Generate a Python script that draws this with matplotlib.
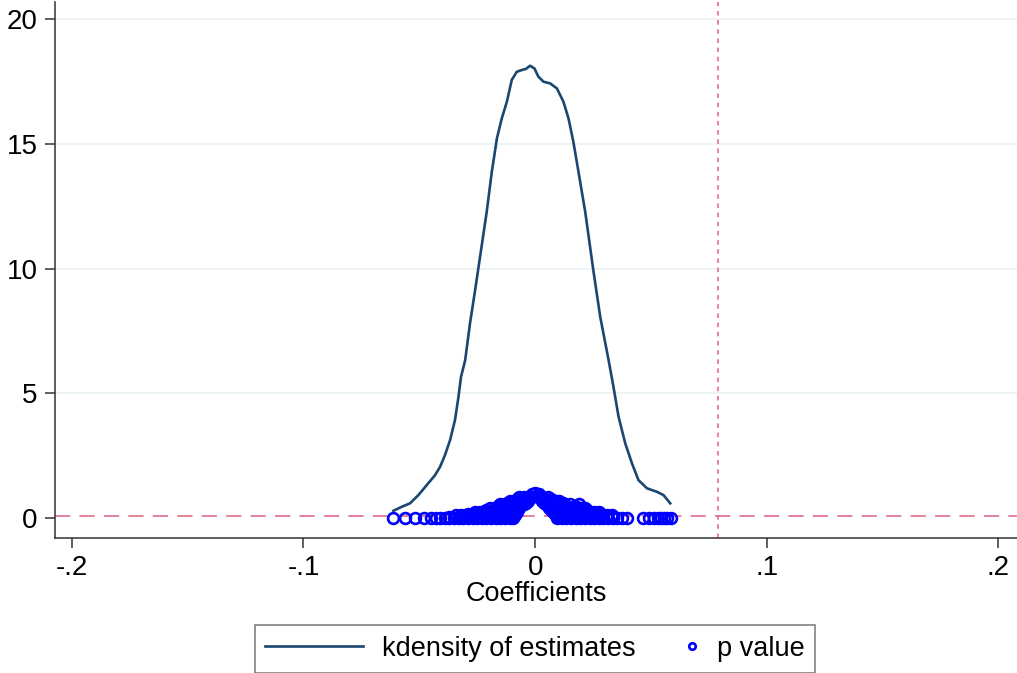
import numpy as np
import matplotlib
matplotlib.use("Agg")
import matplotlib.pyplot as plt
from matplotlib.legend_handler import HandlerLine2D

plt.rcParams['font.family'] = ['Liberation Sans', 'DejaVu Sans']

# kdensity of estimates
kd_x = [-0.0612, -0.0576, -0.054, -0.0504, -0.0468, -0.0432, -0.041, -0.0389,
        -0.0367, -0.0346, -0.0331, -0.032, -0.0302, -0.0281, -0.0259, -0.0238,
        -0.0209, -0.0187, -0.0165, -0.0144, -0.0122, -0.0101, -0.0079, -0.0057,
        -0.004, -0.0022, -0.0003, 0.0014, 0.0036, 0.0065, 0.0094, 0.0122,
        0.0144, 0.0165, 0.0187, 0.0216, 0.0251, 0.0281, 0.0317, 0.0338,
        0.036, 0.0389, 0.0418, 0.0446, 0.0483, 0.0526, 0.0554, 0.0583]
kd_y = [0.29, 0.45, 0.59, 0.92, 1.32, 1.72, 2.06, 2.53,
        3.13, 3.93, 4.86, 5.66, 6.33, 7.82, 9.14, 10.46,
        12.28, 13.88, 15.22, 16.02, 16.69, 17.56, 17.89, 17.96,
        18.0, 18.13, 18.02, 17.69, 17.49, 17.42, 17.22, 16.69,
        16.02, 15.08, 13.88, 12.28, 9.94, 8.06, 6.33, 5.26,
        4.06, 2.99, 2.19, 1.52, 1.19, 1.05, 0.92, 0.59]

# p values, grouped by rows of similar height
p_row_0 = [-0.0613, -0.0562, -0.0518, -0.0479, -0.0449, -0.0428, -0.041, -0.039,
           -0.037, -0.035, -0.033, -0.031, -0.029, -0.027, -0.025, -0.023, -0.021,
           -0.019, -0.017, -0.015, -0.013, -0.011, -0.0095,
           0.0095, 0.0115, 0.0135, 0.0155, 0.0175, 0.0195, 0.0215, 0.0235, 0.0255,
           0.0275, 0.0295, 0.0315, 0.0335, 0.0355, 0.0375, 0.0395,
           0.0467, 0.0492, 0.0514, 0.0531, 0.0544, 0.0557, 0.057, 0.0587]
p_row_06 = [-0.037, -0.033, -0.029, -0.025, -0.021, -0.017, -0.013, -0.0095,
            0.0095, 0.0135, 0.0175, 0.0215, 0.0255, 0.0295, 0.0335]
p_row_12 = [-0.034, -0.032, -0.030, -0.028, -0.026, -0.024, -0.022, -0.020, -0.018,
            -0.016, -0.014, -0.012, -0.010, -0.0085,
            0.009, 0.011, 0.013, 0.015, 0.017, 0.019, 0.021, 0.023, 0.025, 0.027,
            0.029, 0.031, 0.033]
p_row_18 = [-0.029, -0.025, -0.021, -0.017, -0.013, -0.0090,
            0.0085, 0.0125, 0.0165, 0.0205, 0.0245, 0.0285]
p_row_25 = [-0.026, -0.024, -0.022, -0.020, -0.018, -0.016, -0.014, -0.012, -0.010,
            -0.0080,
            0.0075, 0.0095, 0.0115, 0.0135, 0.0155, 0.0175, 0.0195, 0.0215, 0.0235,
            0.0255, 0.0275]
p_row_32 = [-0.021, -0.017, -0.013, -0.0085, 0.0070, 0.0110, 0.0150, 0.0190, 0.0225]
p_row_40 = [-0.0195, -0.0175, -0.0155, -0.0135, -0.0115, -0.0095, -0.0070,
            0.0060, 0.0080, 0.0100, 0.0120, 0.0140, 0.0160, 0.0180, 0.0200, 0.0215]
p_row_47 = [-0.016, -0.012, -0.008, 0.0055, 0.0095, 0.0135, 0.0170]
p_row_55 = [-0.0150, -0.0130, -0.0110, -0.0090, -0.0070, -0.0050,
            0.0045, 0.0065, 0.0085, 0.0105, 0.0125, 0.0150, 0.0190]
p_row_62 = [-0.012, -0.008, -0.004, 0.004, 0.008, 0.012]
p_row_70 = [-0.0110, -0.0090, -0.0070, -0.0050, -0.0030,
            0.0030, 0.0050, 0.0070, 0.0090, 0.0105]
p_row_77 = [-0.008, -0.004, 0.004, 0.007]
p_row_85 = [-0.0070, -0.0050, -0.0030, -0.0015, 0.0015, 0.0030, 0.0055]
p_row_100 = [-0.0015, 0.0, 0.0015]
p_levels = [0.0, 0.06, 0.12, 0.18, 0.25, 0.32, 0.40, 0.47, 0.55, 0.62, 0.70,
            0.77, 0.85, 1.0]
p_rows = [p_row_0, p_row_06, p_row_12, p_row_18, p_row_25, p_row_32, p_row_40,
          p_row_47, p_row_55, p_row_62, p_row_70, p_row_77, p_row_85, p_row_100]

x_ticks = [-0.2, -0.1, 0, 0.1, 0.2]
x_labels = ['-.2', '-.1', '0', '.1', '.2']
y_ticks = [0, 5, 10, 15, 20]
vline_x = 0.079
hline_y = 0.1

pv_x = []
pv_y = []
for lev, row in zip(p_levels, p_rows):
    for c in row:
        pv_x.append(c)
        pv_y.append(0.97 if (lev == 1.0 and c != 0.0) else lev)


class RightMarker(HandlerLine2D):
    # put the marker near the right end of the handle box
    def create_artists(self, legend, orig_handle, xdescent, ydescent,
                       width, height, fontsize, trans):
        shift = width / 2 - 4
        return super().create_artists(legend, orig_handle, xdescent - shift,
                                      ydescent, width, height, fontsize, trans)


fig = plt.figure(figsize=(10.17, 6.73), dpi=100)
ax = fig.add_axes([0.054, 0.2006, 0.946, 0.797])

for yt in y_ticks[1:]:
    ax.axhline(yt, color='#eaf2f3', lw=1.3, zorder=0)

ax.axhline(hline_y, color='#e0607e', lw=1.1, dashes=(10, 6), zorder=1)
ax.axvline(vline_x, color='#e0607e', lw=1.1, dashes=(3, 3), zorder=1)

kd_line, = ax.plot(kd_x, kd_y, color='#1a476f', lw=1.9, label='kdensity of estimates',
                   solid_joinstyle='round', zorder=3)
pv_line, = ax.plot(pv_x, pv_y, linestyle='none', marker='o', markersize=7.8,
                   markerfacecolor='none', markeredgecolor='#0000ff', markeredgewidth=1.9,
                   label='p value', zorder=4)

ax.set_xlim(-0.2073, 0.208)
ax.set_ylim(-0.8, 20.7)
ax.set_xticks(x_ticks)
ax.set_xticklabels(x_labels)
ax.set_yticks(y_ticks)
ax.tick_params(axis='both', direction='out', length=7.5, width=1.1,
               color='#333333', labelsize=20, pad=5)
for s in ['top', 'right']:
    ax.spines[s].set_visible(False)
for s in ['left', 'bottom']:
    ax.spines[s].set_color('#333333')
    ax.spines[s].set_linewidth(1.1)
ax.set_xlabel('Coefficients', fontsize=19.5, labelpad=0)

leg = fig.legend(handles=[kd_line, pv_line], loc='center',
                 bbox_to_anchor=(0.526, 0.036), ncol=2,
                 fontsize=19.5, frameon=True, fancybox=False, edgecolor='#555555',
                 handlelength=3.6, columnspacing=-1.3, markerscale=0.6,
                 borderpad=0.4, handletextpad=0.7,
                 handler_map={pv_line: RightMarker()})
leg.get_frame().set_linewidth(1.1)

fig.savefig('out.png', dpi=100)
